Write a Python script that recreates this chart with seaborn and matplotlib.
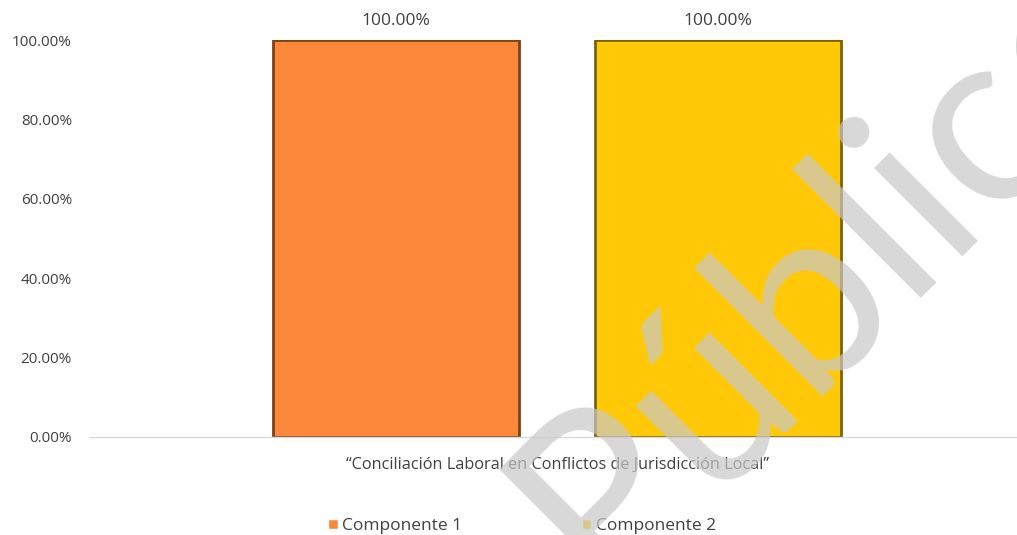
import numpy as np
import pandas as pd
import seaborn as sns
import matplotlib.pyplot as plt
from matplotlib.ticker import PercentFormatter

# values
categoria = ["\u201cConciliaci\u00f3n Laboral en Conflictos de Jurisdicci\u00f3n Local\u201d"]
componentes = ["Componente 1", "Componente 2"]
valores = [100.0, 100.0]

colores = ["#FD883A", "#FFC907"]
bordes = ["#7A4318", "#7E6200"]

df = pd.DataFrame({
    "Categoria": categoria * len(componentes),
    "Componente": componentes,
    "Valor": valores,
})

sns.set_style("white")
plt.rcParams["font.family"] = ["Open Sans", "DejaVu Sans"]

fig = plt.figure(figsize=(10.17, 5.35), dpi=100)
ax = fig.add_axes([90 / 1017, 1 - 437 / 535, 934 / 1017, (437 - 40) / 535])

sns.barplot(data=df, x="Categoria", y="Valor", hue="Componente",
            palette=colores, width=0.69, gap=0.235, saturation=1,
            ax=ax)

for cont, ec in zip(ax.containers, bordes):
    for bar in cont:
        bar.set_edgecolor(ec)
        bar.set_linewidth(2)
    ax.bar_label(cont, labels=["{:.2f}%".format(v) for v in cont.datavalues],
                 padding=8, fontsize=12.5, color="#404040")

ax.set_ylim(0, 100)
ax.set_yticks(np.arange(0, 101, 20))
ax.yaxis.set_major_formatter(PercentFormatter(decimals=2))
ax.set_xlabel("")
ax.set_ylabel("")
ax.tick_params(axis="y", length=0, pad=13, labelsize=11, labelcolor="#404040")
ax.tick_params(axis="x", length=0, pad=14, labelsize=11.7, labelcolor="#404040")

for s in ["top", "right", "left"]:
    ax.spines[s].set_visible(False)
ax.spines["bottom"].set_color("#d9d9d9")
ax.spines["bottom"].set_linewidth(1)

handles, labels = ax.get_legend_handles_labels()
ax.legend(handles, labels, loc="center", ncol=2,
          bbox_to_anchor=(522 / 1017, 1 - 526 / 535), bbox_transform=fig.transFigure,
          frameon=False, fontsize=12.5, handlelength=0.55, handleheight=0.55,
          handletextpad=0.25, columnspacing=6.9, borderpad=0,
          labelcolor="#404040")

# watermark
fig.text(602 / 1017, 1 - 595 / 535, "P\u00fablico", rotation=45,
         rotation_mode="anchor", ha="left", va="baseline",
         fontsize=178, color="#c8c8c8", alpha=0.7,
         family="Lato", zorder=10)

fig.savefig("out.png", dpi=100)
